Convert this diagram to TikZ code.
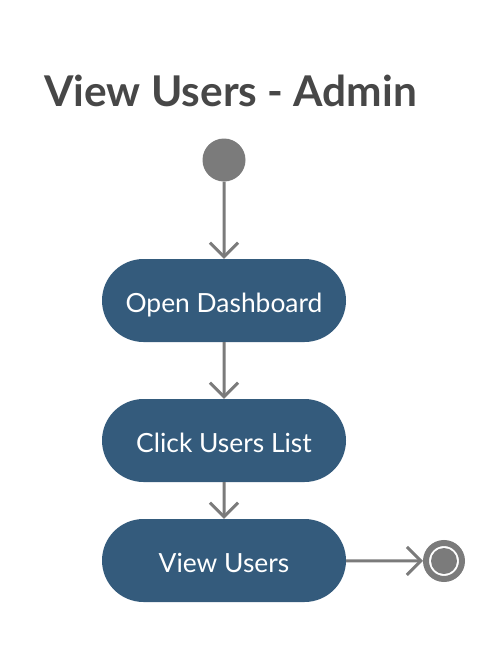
\documentclass[tikz,border=0pt]{standalone}
\usepackage{fontspec}
\setmainfont{Lato}
\usetikzlibrary{arrows.meta,shapes.misc}
\definecolor{nodeblue}{HTML}{345B7C}
\definecolor{linegray}{HTML}{7B7B7B}
\definecolor{titlegray}{HTML}{474747}
\tikzset{
  activity/.style={fill=nodeblue, rounded rectangle, minimum width=244pt, minimum height=83pt, text=white, font=\fontsize{26.4}{30}\selectfont, inner sep=0pt, text height=23.5pt, text depth=0pt},
  flow/.style={draw=linegray, line width=3pt, -{Straight Barb[length=14pt, width=28pt, line width=3pt]}},
}
\begin{document}
\begin{tikzpicture}[x=1pt,y=-1pt]
\useasboundingbox (0,0) rectangle (501,646);
\node[anchor=base west, text=titlegray, font=\fontsize{42.4}{48}\bfseries\selectfont, inner sep=0pt] (title) at (44,106) {View Users - Admin};
\node[circle, fill=linegray, minimum size=43pt, inner sep=0pt] (start) at (224,160) {};
\node[activity] (open) at (224,300.5) {Open Dashboard};
\node[activity] (click) at (224,440.5) {Click Users List};
\node[activity] (view) at (224,560.5) {View Users};
\node[circle, draw=linegray, line width=6pt, minimum size=36pt, inner sep=0pt] (end) at (444,561) {};
\node[circle, fill=linegray, minimum size=26pt, inner sep=0pt] (endin) at (end) {};
\draw[flow] (start) -- (open);
\draw[flow] (open) -- (click);
\draw[flow] (click) -- (view);
\draw[flow] (view) -- (end);
\end{tikzpicture}
\end{document}
